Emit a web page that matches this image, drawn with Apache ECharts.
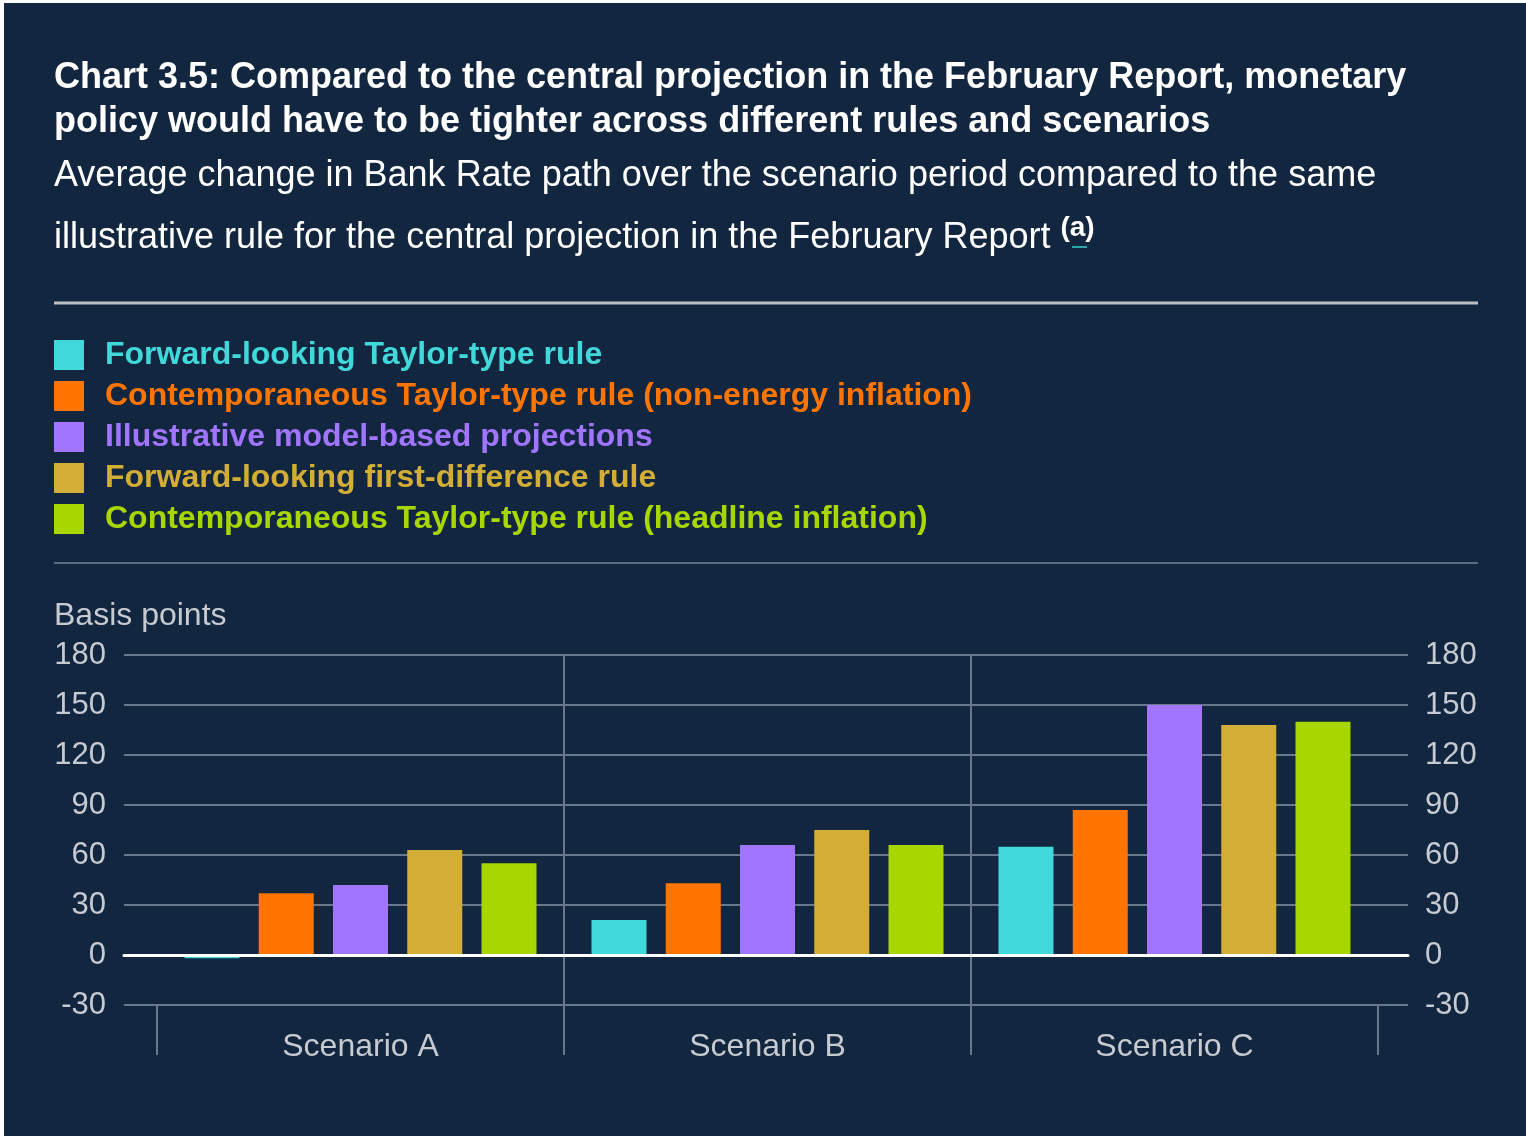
<!DOCTYPE html>
<html>
<head>
<meta charset="utf-8">
<title>Chart 3.5</title>
<script src="https://cdn.jsdelivr.net/npm/echarts@6/dist/echarts.min.js"></script>
<style>
  html, body { margin: 0; padding: 0; background: #ffffff; }
  #chart { position: absolute; left: 4px; top: 3px; width: 1522px; height: 1133px; }
</style>
</head>
<body>
<div id="chart"></div>
<script>
const FONT = '"Liberation Sans", Arial, Helvetica, sans-serif'
const BG = '#13263f'
const GRID_COLOR = '#68778b'
const LABEL_COLOR = '#c6cad1'

const categories = ['Scenario A', 'Scenario B', 'Scenario C']
const seriesNames = [
  'Forward-looking Taylor-type rule',
  'Contemporaneous Taylor-type rule (non-energy inflation)',
  'Illustrative model-based projections',
  'Forward-looking first-difference rule',
  'Contemporaneous Taylor-type rule (headline inflation)'
]
const seriesColors = ['#40d8db', '#ff7500', '#a175ff', '#d3ae37', '#a8d600']
const forwardTaylor = [-2, 21, 65]
const contempNonEnergy = [37, 43, 87]
const modelBased = [42, 66, 150]
const firstDifference = [63, 75, 138]
const contempHeadline = [55, 66, 140]
const seriesValues = [forwardTaylor, contempNonEnergy, modelBased, firstDifference, contempHeadline]
const yMin = -30
const yMax = 180
const yStep = 30

const chart = echarts.init(document.getElementById('chart'))

const yLabel = { color: LABEL_COLOR, fontSize: 31, fontFamily: FONT }

chart.setOption({
  backgroundColor: BG,
  animation: false,
  title: [
    {
      left: 50,
      top: 53,
      padding: 0,
      text: 'Chart 3.5: Compared to the central projection in the February Report, monetary\npolicy would have to be tighter across different rules and scenarios',
      textStyle: { color: '#ffffff', fontSize: 36, fontWeight: 'bold', fontFamily: FONT, lineHeight: 44 }
    },
    {
      left: 50,
      top: 142,
      padding: 0,
      text: 'Average change in Bank Rate path over the scenario period compared to the same\nillustrative rule for the central projection in the February Report {sup|(a)}',
      textStyle: {
        color: '#ffffff',
        fontSize: 36,
        fontWeight: 'normal',
        fontFamily: FONT,
        lineHeight: 62,
        rich: {
          sup: { color: '#ffffff', fontSize: 28, fontWeight: 'bold', fontFamily: FONT, padding: [0, 0, 20, 0] }
        }
      }
    },
    {
      left: 50,
      top: 597,
      padding: 0,
      text: 'Basis points',
      textStyle: { color: LABEL_COLOR, fontSize: 32, fontWeight: 'normal', fontFamily: FONT }
    }
  ],
  graphic: [
    { type: 'line', shape: { x1: 50, y1: 300, x2: 1474, y2: 300 }, style: { stroke: '#b9bdc5', lineWidth: 3 } },
    { type: 'line', shape: { x1: 50, y1: 560, x2: 1474, y2: 560 }, style: { stroke: '#5d6b80', lineWidth: 2 } },
    { type: 'line', shape: { x1: 1068, y1: 244, x2: 1083, y2: 244 }, style: { stroke: '#2aa6a6', lineWidth: 2 } }
  ],
  legend: {
    orient: 'vertical',
    left: 50,
    top: 336,
    padding: 0,
    itemWidth: 30,
    itemHeight: 30,
    itemGap: 9,
    icon: 'rect',
    data: seriesNames.map((name, i) => ({
      name,
      textStyle: { color: seriesColors[i] }
    })),
    textStyle: { fontSize: 32, fontWeight: 'bold', fontFamily: FONT, padding: [0, 0, 0, 16] }
  },
  grid: [
    { left: 120, right: 118, top: 652, bottom: 131 },
    { left: 153, right: 148, top: 652, bottom: 131 }
  ],
  xAxis: [
    {
      type: 'value',
      gridIndex: 0,
      min: 0,
      max: 1,
      z: 10,
      axisLine: { show: true, onZero: true, lineStyle: { color: '#ffffff', width: 3 } },
      axisTick: { show: false },
      axisLabel: { show: false },
      splitLine: { show: false }
    },
    {
      type: 'category',
      gridIndex: 1,
      data: categories,
      position: 'bottom',
      axisLine: { show: false, onZero: false },
      axisTick: { show: true, length: 50, lineStyle: { color: GRID_COLOR, width: 2 } },
      axisLabel: { color: LABEL_COLOR, fontSize: 32, fontFamily: FONT, margin: 26 },
      splitLine: { show: true, showMinLine: false, showMaxLine: false, lineStyle: { color: GRID_COLOR, width: 2 } }
    }
  ],
  yAxis: [
    {
      type: 'value',
      gridIndex: 0,
      position: 'left',
      min: yMin,
      max: yMax,
      interval: yStep,
      axisLine: { show: false },
      axisTick: { show: false },
      axisLabel: Object.assign({ margin: 18 }, yLabel),
      splitLine: { show: true, lineStyle: { color: GRID_COLOR, width: 2 } }
    },
    {
      type: 'value',
      gridIndex: 0,
      position: 'right',
      min: yMin,
      max: yMax,
      interval: yStep,
      axisLine: { show: false },
      axisTick: { show: false },
      axisLabel: Object.assign({ margin: 17 }, yLabel),
      splitLine: { show: false }
    },
    {
      type: 'value',
      gridIndex: 1,
      min: yMin,
      max: yMax,
      interval: yStep,
      show: false
    }
  ],
  series: seriesNames.map((name, i) => ({
    name,
    type: 'bar',
    xAxisIndex: 1,
    yAxisIndex: 2,
    barWidth: 55,
    barGap: '35%',
    itemStyle: { color: seriesColors[i] },
    data: seriesValues[i]
  }))
})
</script>
</body>
</html>
